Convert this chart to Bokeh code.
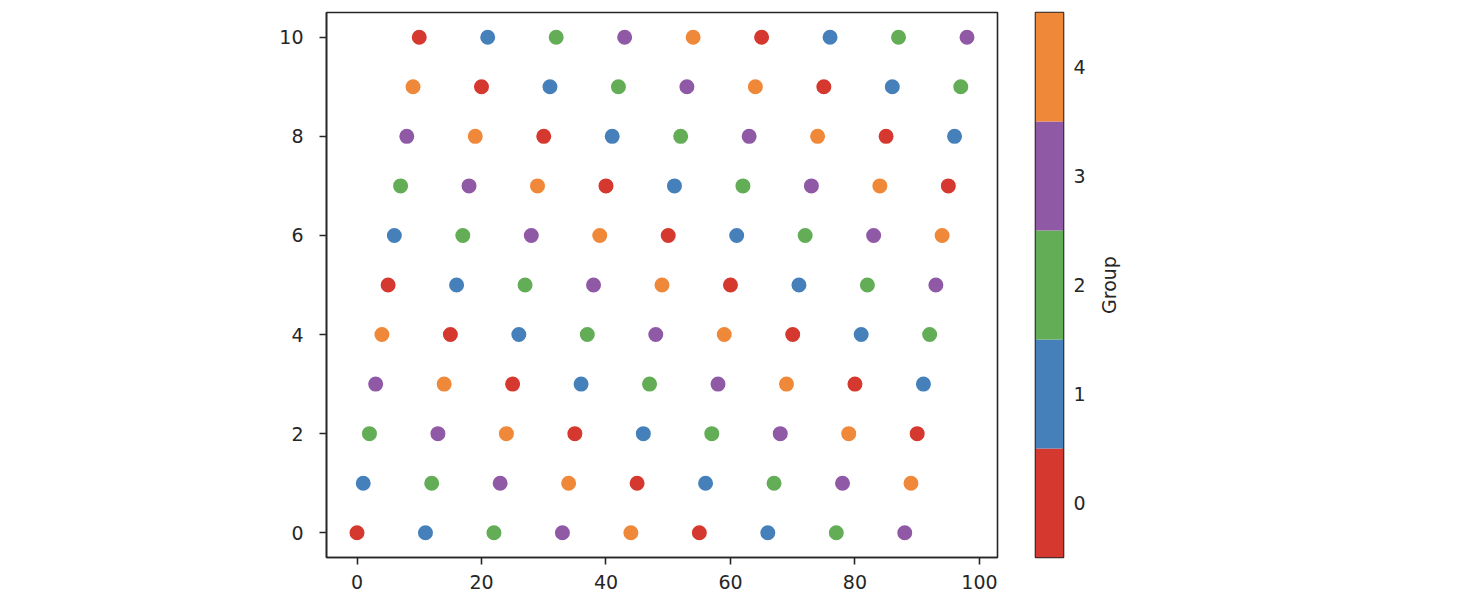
import math
from bokeh.plotting import figure
from bokeh.layouts import row
from bokeh.models import Range1d, FixedTicker, ColumnDataSource
from bokeh.core.properties import value
from bokeh.transform import linear_cmap
from bokeh.embed import file_html
from bokeh.resources import INLINE

# ---- data ----
x_vals = [0, 1, 2, 3, 4, 5, 6, 7, 8, 9, 10, 11, 12, 13, 14, 15, 16, 17, 18, 19,
          20, 21, 22, 23, 24, 25, 26, 27, 28, 29, 30, 31, 32, 33, 34, 35, 36, 37, 38, 39,
          40, 41, 42, 43, 44, 45, 46, 47, 48, 49, 50, 51, 52, 53, 54, 55, 56, 57, 58, 59,
          60, 61, 62, 63, 64, 65, 66, 67, 68, 69, 70, 71, 72, 73, 74, 75, 76, 77, 78, 79,
          80, 81, 82, 83, 84, 85, 86, 87, 88, 89, 90, 91, 92, 93, 94, 95, 96, 97, 98]
y_vals = [0, 1, 2, 3, 4, 5, 6, 7, 8, 9, 10,
          0, 1, 2, 3, 4, 5, 6, 7, 8, 9, 10,
          0, 1, 2, 3, 4, 5, 6, 7, 8, 9, 10,
          0, 1, 2, 3, 4, 5, 6, 7, 8, 9, 10,
          0, 1, 2, 3, 4, 5, 6, 7, 8, 9, 10,
          0, 1, 2, 3, 4, 5, 6, 7, 8, 9, 10,
          0, 1, 2, 3, 4, 5, 6, 7, 8, 9, 10,
          0, 1, 2, 3, 4, 5, 6, 7, 8, 9, 10,
          0, 1, 2, 3, 4, 5, 6, 7, 8, 9, 10]
groups = [0, 1, 2, 3, 4, 0, 1, 2, 3, 4, 0, 1, 2, 3, 4, 0, 1, 2, 3, 4,
          0, 1, 2, 3, 4, 0, 1, 2, 3, 4, 0, 1, 2, 3, 4, 0, 1, 2, 3, 4,
          0, 1, 2, 3, 4, 0, 1, 2, 3, 4, 0, 1, 2, 3, 4, 0, 1, 2, 3, 4,
          0, 1, 2, 3, 4, 0, 1, 2, 3, 4, 0, 1, 2, 3, 4, 0, 1, 2, 3, 4,
          0, 1, 2, 3, 4, 0, 1, 2, 3, 4, 0, 1, 2, 3, 4, 0, 1, 2, 3]
group_levels = [0, 1, 2, 3, 4]
palette = ["#d5382e", "#4680bb", "#62ad56", "#8f59a6", "#f0883a"]
x_ticks = [0, 20, 40, 60, 80, 100]
y_ticks = [0, 2, 4, 6, 8, 10]
cbar_label = "Group"

FONT = "DejaVu Sans"
FS = "19px"
DARK = "#262626"

src = ColumnDataSource(dict(x=x_vals, y=y_vals, g=groups))

p = figure(width=1010, height=604, output_backend="svg", toolbar_location=None,
           x_range=Range1d(-4.9, 102.9), y_range=Range1d(-0.5, 10.5),
           min_border_left=326, min_border_right=13, min_border_top=12, min_border_bottom=47)
p.scatter("x", "y", source=src, size=16.5, line_color="white", line_width=1.5,
          fill_color=linear_cmap("g", palette, -0.5, 4.5), fill_alpha=1.0)

p.xgrid.visible = False
p.ygrid.visible = False
p.outline_line_color = DARK
p.outline_line_width = 1.6
p.background_fill_color = "white"
p.border_fill_color = "white"

p.xaxis.ticker = FixedTicker(ticks=x_ticks)
p.yaxis.ticker = FixedTicker(ticks=y_ticks)
for ax in (p.xaxis[0], p.yaxis[0]):
    ax.minor_tick_line_color = None
    ax.major_tick_in = 0
    ax.major_tick_out = 7
    ax.major_tick_line_width = 1.6
    ax.major_tick_line_color = DARK
    ax.axis_line_color = DARK
    ax.axis_line_width = 1.6
    ax.major_label_text_font = FONT
    ax.major_label_text_font_size = FS
    ax.major_label_text_color = DARK
p.xaxis.major_label_standoff = 10
p.yaxis.major_label_standoff = 16

# ---- colorbar as its own figure ----
cb = figure(width=80, height=604, output_backend="svg", toolbar_location=None,
            x_range=Range1d(0, 1), y_range=Range1d(-0.5, 4.5),
            min_border_left=25, min_border_right=27, min_border_top=12, min_border_bottom=47,
            y_axis_location="right")
cb.quad(left=[0] * len(group_levels), right=[1] * len(group_levels),
        bottom=[g - 0.5 for g in group_levels], top=[g + 0.5 for g in group_levels],
        fill_color=palette, line_color=None)
cb.xaxis.visible = False
cb.xgrid.visible = False
cb.ygrid.visible = False
cb.outline_line_color = DARK
cb.outline_line_width = 1.6
cb.yaxis.ticker = FixedTicker(ticks=group_levels)
cb.yaxis.minor_tick_line_color = None
cb.yaxis.major_tick_in = 0
cb.yaxis.major_tick_out = 0
cb.yaxis.axis_line_color = None
cb.yaxis.major_label_standoff = 10
cb.yaxis.major_label_text_font = FONT
cb.yaxis.major_label_text_font_size = FS
cb.yaxis.major_label_text_color = DARK

# ---- colorbar title, reading bottom to top ----
lab = figure(width=40, height=604, output_backend="svg", toolbar_location=None,
             x_range=Range1d(0, 1), y_range=Range1d(-0.5, 4.5),
             min_border_left=0, min_border_right=0, min_border_top=12, min_border_bottom=47)
lab.axis.visible = False
lab.grid.visible = False
lab.outline_line_color = None
lab.text(x=[0.45], y=[2], text=[cbar_label], angle=math.pi / 2,
         text_align="center", text_baseline="middle",
         text_font=value(FONT), text_font_size=FS, text_color=DARK)

layout = row(p, cb, lab)
open("out.html", "w").write(file_html(layout, INLINE))
